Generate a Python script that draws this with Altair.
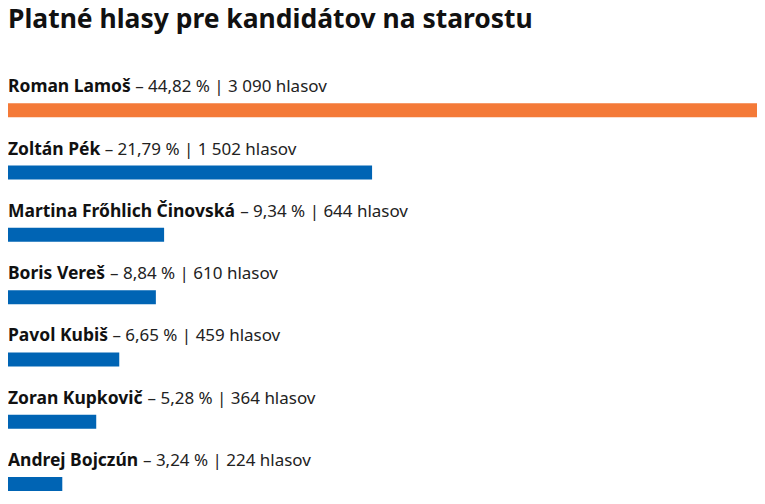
import struct, glob, subprocess
import altair as alt
import pandas as pd

# ---- data ----
names = ["Roman Lamoš", "Zoltán Pék", "Martina Frőhlich Činovská", "Boris Vereš",
         "Pavol Kubiš", "Zoran Kupkovič", "Andrej Bojczún"]
percents = [44.82, 21.79, 9.34, 8.84, 6.65, 5.28, 3.24]
votes = [3090, 1502, 644, 610, 459, 364, 224]
title_text = "Platné hlasy pre kandidátov na starostu"

# font choices: (family, file key, bold label size, regular label size)
FAMILIES = [("Noto Sans", "NotoSans", 17.5, 17), ("Open Sans", "OpenSans", 17.5, 17),
            ("Liberation Sans", "LiberationSans", 18, 17.5)]
TITLE_FONT = "Noto Sans"
TITLE_SIZE = 26.5


def candidate_files(family, key, bold):
    out = []
    try:
        pat = family + (":bold" if bold else ":regular")
        p = subprocess.run(["fc-match", "-f", "%{file}", pat], capture_output=True, text=True).stdout.strip()
        if p and key.lower() in p.replace(" ", "").lower():
            out.append(p)
    except Exception:
        pass
    style = "Bold" if bold else "Regular"
    for root in ("/usr/share/fonts", "/usr/local/share/fonts", "/root/.fonts", "/root/.local/share/fonts"):
        for ext in ("ttf", "otf"):
            out += glob.glob(f"{root}/**/{key}-{style}.{ext}", recursive=True)
            out += glob.glob(f"{root}/**/{key}[[]*.{ext}", recursive=True)
            out += glob.glob(f"{root}/**/{key}-VariableFont*.{ext}", recursive=True)
    return out


def U(fmt, data, pos):
    return struct.unpack(fmt, data[pos:pos + struct.calcsize(fmt)])


def load_metrics(path, wght):
    data = open(path, "rb").read()
    base = 0
    if data[:4] == b"ttcf":
        base = U(">I", data, 12)[0]
    n = U(">H", data, base + 4)[0]
    tables = {}
    for i in range(n):
        tag, cs, off, ln = U(">4sIII", data, base + 12 + 16 * i)
        tables[tag.decode("latin1")] = off
    head = tables["head"]
    upm = U(">H", data, head + 18)[0]
    nhm = U(">H", data, tables["hhea"] + 34)[0]
    hm = tables["hmtx"]
    adv = [U(">H", data, hm + 4 * i)[0] for i in range(nhm)]
    cm = tables["cmap"]
    nsub = U(">H", data, cm + 2)[0]
    segs = None
    for i in range(nsub):
        pid, eid, off = U(">HHI", data, cm + 4 + 8 * i)
        st = cm + off
        if U(">H", data, st)[0] == 4:
            x2 = U(">H", data, st + 6)[0]
            k = x2 // 2
            ends = U(">%dH" % k, data, st + 14)
            starts = U(">%dH" % k, data, st + 16 + x2)
            deltas = U(">%dh" % k, data, st + 16 + 2 * x2)
            rpos = st + 16 + 3 * x2
            roffs = U(">%dH" % k, data, rpos)
            segs = (ends, starts, deltas, roffs, rpos)
            break
    if segs is None:
        raise ValueError("no cmap")

    def gid(ch):
        c = ord(ch)
        ends, starts, deltas, roffs, rpos = segs
        for j in range(len(ends)):
            if c <= ends[j]:
                if c < starts[j]:
                    return 0
                if roffs[j] == 0:
                    return (c + deltas[j]) & 0xFFFF
                g = U(">H", data, rpos + 2 * j + roffs[j] + 2 * (c - starts[j]))[0]
                return (g + deltas[j]) & 0xFFFF if g else 0
        return 0

    delta_fn = lambda g: 0.0
    if "fvar" in tables:
        fv = tables["fvar"]
        axes_off, _, axis_count, axis_size = U(">HHHH", data, fv + 4)
        coords = []
        for a in range(axis_count):
            p = fv + axes_off + a * axis_size
            tag = data[p:p + 4]
            mn, df, mx = [x / 65536 for x in U(">iii", data, p + 4)]
            nc = 0.0
            if tag == b"wght":
                v = max(mn, min(mx, wght))
                if v < df and df > mn:
                    nc = (v - df) / (df - mn)
                elif v > df and mx > df:
                    nc = (v - df) / (mx - df)
            coords.append(nc)
        if "avar" in tables:
            av = tables["avar"]
            cnt = U(">H", data, av + 6)[0]
            p = av + 8
            for a in range(cnt):
                m = U(">H", data, p)[0]
                p += 2
                pairs = [(U(">h", data, p + 4 * q)[0] / 16384, U(">h", data, p + 4 * q + 2)[0] / 16384) for q in range(m)]
                p += 4 * m
                c = coords[a]
                for q in range(1, m):
                    if c <= pairs[q][0]:
                        f0, t0 = pairs[q - 1]
                        f1, t1 = pairs[q]
                        coords[a] = t0 + (t1 - t0) * (c - f0) / (f1 - f0) if f1 != f0 else t0
                        break
        if any(coords):
            if "HVAR" not in tables:
                raise ValueError("no HVAR")
            hv = tables["HVAR"]
            ivs_off, map_off = U(">II", data, hv + 4)
            ivs = hv + ivs_off
            _, reg_off, dcount = U(">HIH", data, ivs)
            doffs = U(">%dI" % dcount, data, ivs + 8)
            rl = ivs + reg_off
            raxis, rcount = U(">HH", data, rl)
            scalars = []
            for r in range(rcount):
                s = 1.0
                for a in range(raxis):
                    stt, pk, en = [x / 16384 for x in U(">hhh", data, rl + 4 + (r * raxis + a) * 6)]
                    c = coords[a]
                    if pk == 0 or stt > pk or pk > en or (stt < 0 < en):
                        continue
                    if c < stt or c > en:
                        s = 0.0
                        break
                    if c == pk:
                        continue
                    s *= (c - stt) / (pk - stt) if c < pk else (en - c) / (en - pk)
                scalars.append(s)
            ivds = []
            for off in doffs:
                q = ivs + off
                icount, wcount, rcnt = U(">HHH", data, q)
                longw = bool(wcount & 0x8000)
                wc = wcount & 0x7FFF
                ridx = U(">%dH" % rcnt, data, q + 6)
                p = q + 6 + 2 * rcnt
                big, small = (4, 2) if longw else (2, 1)
                ivds.append((wc, ridx, p, wc * big + (rcnt - wc) * small, big, small))

            def ivs_delta(outer, inner):
                wc, ridx, p, rowsize, big, small = ivds[outer]
                pos = p + inner * rowsize
                tot = 0.0
                for k, ri in enumerate(ridx):
                    if k < wc:
                        d = U(">i" if big == 4 else ">h", data, pos)[0]
                        pos += big
                    else:
                        d = U(">h" if small == 2 else ">b", data, pos)[0]
                        pos += small
                    tot += d * scalars[ri]
                return tot

            if map_off:
                mp = hv + map_off
                mfmt, efmt = data[mp], data[mp + 1]
                if mfmt == 0:
                    mcount = U(">H", data, mp + 2)[0]
                    md = mp + 4
                else:
                    mcount = U(">I", data, mp + 2)[0]
                    md = mp + 6
                esz = ((efmt >> 4) & 3) + 1
                ibits = (efmt & 0xF) + 1

                def mapg(g):
                    g = min(g, mcount - 1)
                    e = int.from_bytes(data[md + g * esz: md + (g + 1) * esz], "big")
                    return e >> ibits, e & ((1 << ibits) - 1)
            else:
                mapg = lambda g: (0, g)
            delta_fn = lambda g: ivs_delta(*mapg(g))
    elif wght >= 600 and "Bold" not in path and "bold" not in path:
        raise ValueError("not a bold file")

    def width(s, size):
        tot = 0.0
        for ch in s:
            g = gid(ch)
            tot += adv[min(g, nhm - 1)] + delta_fn(g)
        return tot * size / upm

    return width


def measurer(family, key, bold):
    for p in candidate_files(family, key, bold):
        try:
            return load_metrics(p, 700 if bold else 400)
        except Exception:
            continue
    return None


FONT, NAME_SIZE, REST_SIZE = "Liberation Sans", 18, 17.5
bold_w = lambda s, size: len(s) * size * 0.62
reg_w = lambda s, size: len(s) * size * 0.52
for fam, key, bs, rs in FAMILIES:
    bw = measurer(fam, key, True)
    rw = measurer(fam, key, False)
    if bw and rw:
        FONT, NAME_SIZE, REST_SIZE, bold_w, reg_w = fam, bs, rs, bw, rw
        break


def fmt_votes(v):
    return f"{v:,}".replace(",", " ")


rows = []
for i, (n, p, v) in enumerate(zip(names, percents, votes)):
    rows.append({
        "idx": i,
        "name": n,
        "votes": v,
        "rest": "– " + f"{p:.2f}".replace(".", ",") + " % | " + fmt_votes(v) + " hlasov",
    })
df = pd.DataFrame(rows)

STEP = 62.4
PLOT_H = 424
TOP_GAP = 40
lo = -TOP_GAP / STEP
hi = lo + PLOT_H / STEP

xscale = alt.Scale(domain=[0, max(votes)], nice=False, zero=True, padding=0)
yscale = alt.Scale(domain=[lo, hi], nice=False, zero=False, reverse=True, padding=0)

base = alt.Chart(df)

bars = base.mark_bar(orient="horizontal", size=14).encode(
    x=alt.X("votes:Q", scale=xscale, axis=None),
    y=alt.Y("idx:Q", scale=yscale, axis=None),
    color=alt.condition(alt.datum.idx == 0, alt.value("#f47a38"), alt.value("#0064b4")),
)

name_text = base.mark_text(
    align="left", baseline="alphabetic", dy=-18, font=FONT, fontSize=NAME_SIZE,
    fontWeight="bold", color="#111111",
).encode(x=alt.datum(0), y=alt.Y("idx:Q"), text="name:N")

layers = [bars, name_text]
for i, n in enumerate(names):
    dx = bold_w(n, NAME_SIZE) + reg_w(" ", REST_SIZE)
    layers.append(
        base.transform_filter(alt.datum.idx == i).mark_text(
            align="left", baseline="alphabetic", dx=dx, dy=-18, font=FONT,
            fontSize=REST_SIZE, color="#222222",
        ).encode(x=alt.datum(0), y=alt.Y("idx:Q"), text="rest:N")
    )

chart = alt.layer(*layers).properties(
    width=750,
    height=PLOT_H,
    title=alt.TitleParams(
        title_text, anchor="start", font=TITLE_FONT, fontSize=TITLE_SIZE, fontWeight="bold",
        color="#111111", baseline="alphabetic", offset=16,
    ),
    autosize=alt.AutoSizeParams(type="none"),
    padding={"left": 0, "top": 62, "right": 0, "bottom": 0},
).configure_view(stroke=None)

chart.save("out.html", embed_options={"renderer": "svg", "actions": False})
